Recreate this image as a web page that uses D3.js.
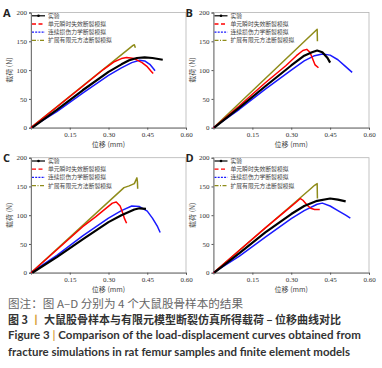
<!DOCTYPE html>
<html>
<head>
<meta charset="utf-8">
<script src="https://cdn.jsdelivr.net/npm/d3@7"></script>
<style>
  html, body { margin: 0; padding: 0; background: #fff; }
  svg { display: block; }
</style>
</head>
<body>
<div id="container"></div>
<script>
// 图例与刻度
const seriesNames = ["实验", "单元瞬时失效断裂模拟", "连续损伤力学断裂模拟", "扩展有限元方法断裂模拟"];
const seriesColors = ["#000000", "#ff0000", "#1a1aff", "#8f8c1a"];
const xTicks = [0.15, 0.30, 0.45, 0.60];
const yTicks = [0, 50, 100, 150, 200];
const panelLetters = ["A", "B", "C", "D"];

// 各面板数据：[位移 mm, 载荷 N]
const expA = [[0.005, 0], [0.1, 31], [0.2, 65], [0.3, 97], [0.35, 110], [0.38, 117], [0.41, 121], [0.44, 122], [0.47, 121], [0.51, 118]];
const elemA = [[0, 0], [0.1, 36], [0.2, 72], [0.28, 101], [0.32, 114], [0.35, 120], [0.37, 122], [0.40, 120], [0.43, 113], [0.45, 106], [0.465, 98], [0.473, 94]];
const cdmA = [[0, 0], [0.1, 28], [0.2, 60], [0.3, 91], [0.35, 104], [0.39, 113], [0.42, 117], [0.44, 116], [0.46, 110], [0.475, 102], [0.48, 99]];
const xfemA = [[0, 0], [0.395, 143], [0.40, 144], [0.404, 139]];

const expB = [[0.003, 0], [0.1, 35], [0.2, 72], [0.3, 108], [0.35, 125], [0.38, 131], [0.40, 134], [0.42, 131], [0.44, 121], [0.45, 113]];
const elemB = [[0, 0], [0.1, 38], [0.2, 78], [0.28, 108], [0.32, 125], [0.345, 134], [0.36, 136], [0.372, 131], [0.382, 120], [0.392, 109], [0.405, 104]];
const cdmB = [[0, 0], [0.1, 32], [0.2, 67], [0.3, 100], [0.35, 116], [0.39, 125], [0.42, 128], [0.45, 126], [0.48, 118], [0.51, 106], [0.535, 96]];
const xfemB = [[0, 0], [0.40, 171], [0.401, 150]];

const expC = [[0.005, 0], [0.1, 27], [0.2, 58], [0.3, 88], [0.35, 100], [0.4, 110], [0.42, 112], [0.445, 111]];
const elemC = [[0, 0], [0.1, 40], [0.2, 80], [0.25, 97], [0.29, 112], [0.315, 121], [0.33, 123], [0.345, 116], [0.355, 104], [0.362, 94], [0.37, 86]];
const cdmC = [[0, 0], [0.1, 30], [0.2, 64], [0.3, 95], [0.35, 108], [0.39, 116], [0.42, 115], [0.45, 107], [0.47, 95], [0.49, 80], [0.50, 70]];
const xfemC = [[0, 0], [0.36, 148], [0.38, 151], [0.40, 155], [0.41, 165], [0.412, 158], [0.413, 146]];

const expD = [[0.003, 0], [0.1, 34], [0.2, 70], [0.3, 102], [0.35, 116], [0.4, 125], [0.45, 129], [0.48, 127], [0.51, 124]];
const elemD = [[0, 0], [0.1, 39], [0.2, 78], [0.28, 108], [0.32, 123], [0.335, 129], [0.345, 126], [0.36, 118], [0.375, 112], [0.39, 110], [0.41, 110]];
const cdmD = [[0, 0], [0.1, 29], [0.2, 62], [0.3, 94], [0.35, 108], [0.4, 119], [0.42, 121], [0.45, 116], [0.48, 108], [0.51, 100], [0.528, 95]];
const xfemD = [[0, 0], [0.375, 146], [0.39, 152], [0.40, 155], [0.401, 129]];

const panelData = [
  [expA, elemA, cdmA, xfemA],
  [expB, elemB, cdmB, xfemB],
  [expC, elemC, cdmC, xfemC],
  [expD, elemD, cdmD, xfemD]
];

// 图注
const captionNote = "图注：图 A–D 分别为 4 个大鼠股骨样本的结果";
const captionCn = "大鼠股骨样本与有限元模型断裂仿真所得载荷 – 位移曲线对比";
const captionEn1 = "Comparison of the load-displacement curves obtained from";
const captionEn2 = "fracture simulations in rat femur samples and finite element models";

const width = 382, height = 368;

// 面板位置
const panels = [
  { left: 31, right: 186, top: 12.5, bottom: 127.7 },
  { left: 213.5, right: 369, top: 12.5, bottom: 127.7 },
  { left: 31, right: 186, top: 157.7, bottom: 272.7 },
  { left: 213.5, right: 369, top: 157.7, bottom: 272.7 }
];

const svg = d3.select("#container").append("svg")
  .attr("width", width)
  .attr("height", height)
  .attr("viewBox", [0, 0, width, height]);

const serif = "'Liberation Serif', 'DejaVu Serif', serif";
const cjk = "'Noto Sans CJK SC', sans-serif";
const dashes = [null, "4,2.5", "2,1.2", "4,1.5,1,1.5"];

panels.forEach((p, k) => {
  const xScale = d3.scaleLinear([0, 0.6], [p.left, p.right]);
  const yScale = d3.scaleLinear([0, 200], [p.bottom, p.top]);
  const g = svg.append("g");

  // 边框
  g.append("rect")
    .attr("x", p.left).attr("y", p.top)
    .attr("width", p.right - p.left).attr("height", p.bottom - p.top)
    .attr("fill", "none").attr("stroke", "#b4b4b4").attr("stroke-width", 0.8);

  // 坐标轴
  g.append("g")
    .attr("transform", `translate(0,${p.bottom})`)
    .call(d3.axisBottom(xScale).tickValues(xTicks).tickSize(2).tickPadding(2).tickFormat(d3.format(".2f")))
    .call((a) => a.select(".domain").attr("stroke", "#777"))
    .call((a) => a.selectAll(".tick line").attr("stroke", "#555"))
    .call((a) => a.selectAll("text").attr("font-family", serif).attr("font-size", 7).attr("fill", "#333"));

  g.append("g")
    .attr("transform", `translate(${p.left},0)`)
    .call(d3.axisLeft(yScale).tickValues(yTicks).tickSize(2).tickPadding(2))
    .call((a) => a.select(".domain").attr("stroke", "#777"))
    .call((a) => a.selectAll(".tick line").attr("stroke", "#555"))
    .call((a) => a.selectAll("text").attr("font-family", serif).attr("font-size", 7).attr("fill", "#333"));

  // 轴标题
  const cx = (p.left + p.right) / 2, cy = (p.top + p.bottom) / 2;
  g.append("text")
    .attr("x", cx).attr("y", p.bottom + 19.5)
    .attr("text-anchor", "middle")
    .attr("font-family", cjk).attr("font-size", 7).attr("fill", "#444")
    .text("位移 (mm)");
  g.append("text")
    .attr("transform", `translate(${p.left - 19},${cy}) rotate(-90)`)
    .attr("text-anchor", "middle")
    .attr("font-family", cjk).attr("font-size", 7).attr("fill", "#444")
    .text("载荷 (N)");

  // 面板字母
  g.append("text")
    .attr("x", p.left - 28).attr("y", p.top + 4)
    .attr("font-family", "'Open Sans', sans-serif").attr("font-weight", "bold")
    .attr("font-size", 11).attr("fill", "#222")
    .text(panelLetters[k]);

  // 曲线
  const line = d3.line().x((d) => xScale(d[0])).y((d) => yScale(d[1]));
  const order = [3, 2, 1, 0];
  order.forEach((s) => {
    g.append("path")
      .datum(panelData[k][s])
      .attr("d", line)
      .attr("fill", "none")
      .attr("stroke", seriesColors[s])
      .attr("stroke-width", s === 0 ? 2.2 : 1.5)
      .attr("stroke-linejoin", "round");
  });

  // 图例
  const legend = g.append("g");
  seriesNames.forEach((name, s) => {
    const ly = p.top + 3.3 + s * 8.2;
    legend.append("line")
      .attr("x1", p.left + 1).attr("x2", p.left + 14)
      .attr("y1", ly).attr("y2", ly)
      .attr("stroke", seriesColors[s])
      .attr("stroke-width", s === 0 ? 1.2 : 1.3)
      .attr("stroke-dasharray", dashes[s]);
    if (s === 0) {
      legend.append("circle")
        .attr("cx", p.left + 7.5).attr("cy", ly).attr("r", 1.3)
        .attr("fill", "#000");
    }
    legend.append("text")
      .attr("x", p.left + 17).attr("y", ly)
      .attr("dy", "0.35em")
      .attr("font-family", cjk).attr("font-size", 5.8).attr("fill", "#444")
      .text(name);
  });
});

// 图注文字
const cap = svg.append("g");
cap.append("text")
  .attr("x", 8).attr("y", 308)
  .attr("font-family", cjk).attr("font-size", 11).attr("fill", "#666")
  .attr("textLength", 235).attr("lengthAdjust", "spacingAndGlyphs")
  .text(captionNote);

const t2 = cap.append("text")
  .attr("x", 8).attr("y", 323.5)
  .attr("font-family", cjk).attr("font-size", 11).attr("font-weight", "bold").attr("fill", "#333");
t2.append("tspan").text("图 3 ");
t2.append("tspan").attr("fill", "#d9a441").text("丨");
t2.append("tspan").text(" " + captionCn);

const t3 = cap.append("text")
  .attr("x", 8).attr("y", 338.5)
  .attr("font-family", "Lato, 'Open Sans', sans-serif").attr("font-size", 11.5).attr("font-weight", "bold").attr("fill", "#333");
t3.append("tspan").text("Figure 3  ");
t3.append("tspan").attr("fill", "#d9a441").text("|");
t3.append("tspan").text("  " + captionEn1);

cap.append("text")
  .attr("x", 8).attr("y", 355.5)
  .attr("font-family", "Lato, 'Open Sans', sans-serif").attr("font-size", 11.5).attr("font-weight", "bold").attr("fill", "#333")
  .attr("textLength", 342).attr("lengthAdjust", "spacingAndGlyphs")
  .text(captionEn2);
</script>
</body>
</html>
